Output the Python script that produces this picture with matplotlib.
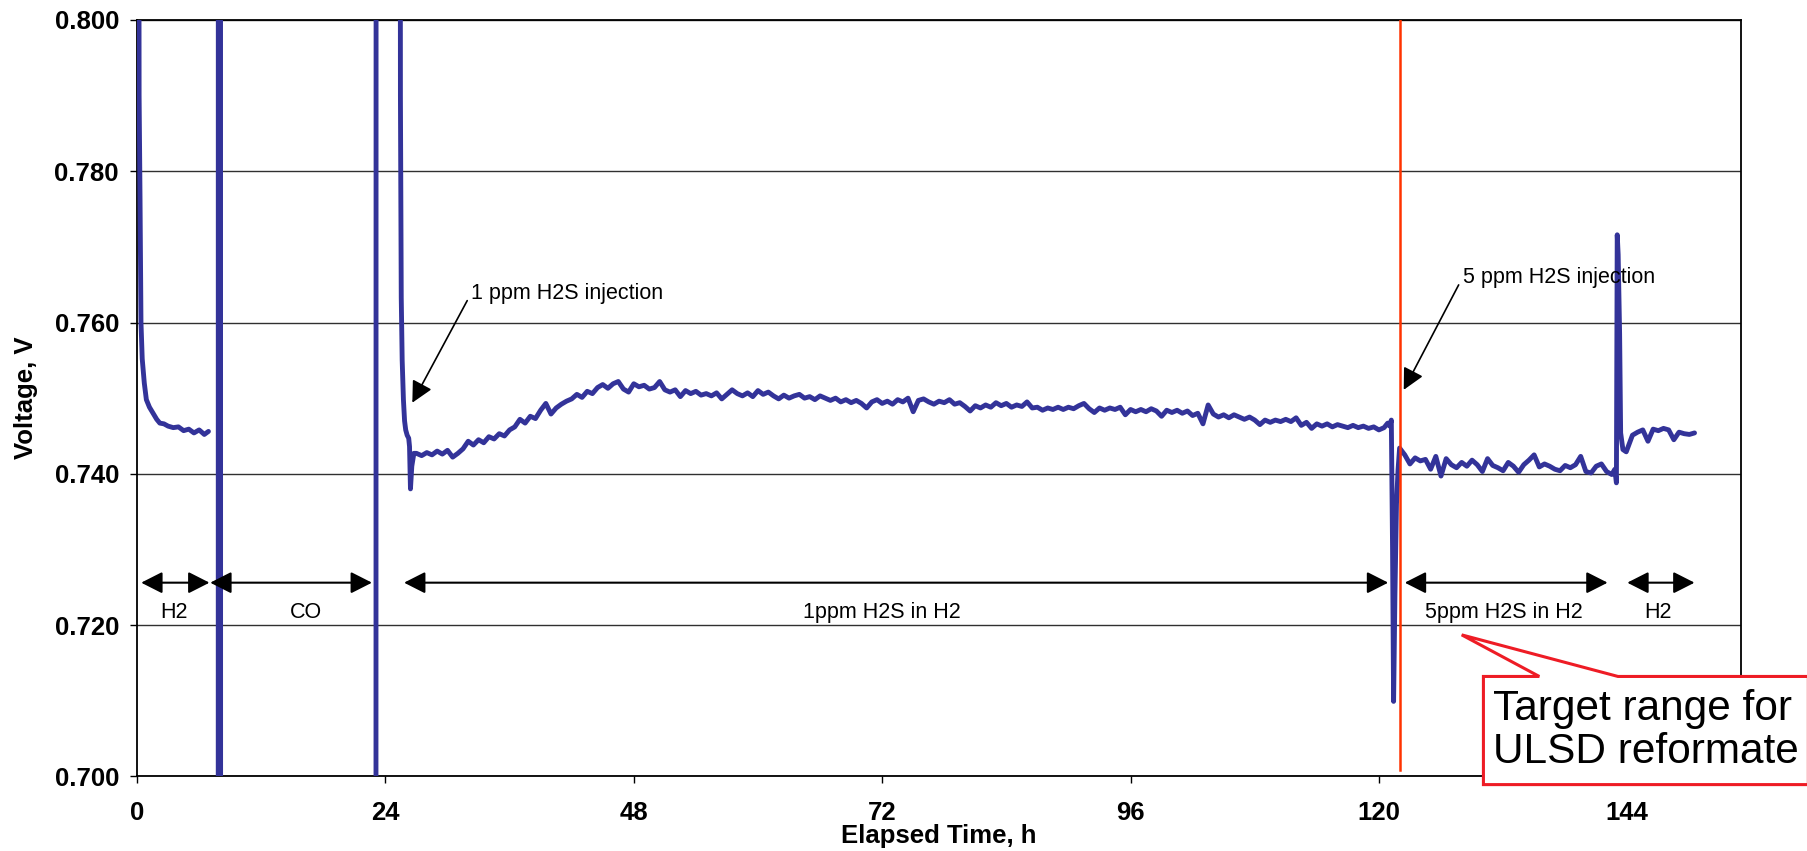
import numpy as np
import matplotlib
matplotlib.use("Agg")
import matplotlib.pyplot as plt
from matplotlib.patches import Polygon
from matplotlib.ticker import FormatStrFormatter

plt.rcParams['font.family'] = ['Liberation Sans', 'DejaVu Sans']

LOG_STEP = 0.5  # h between readings in the long runs

# H2 baseline after start-up
t_h2_start = [0.08, 0.2, 0.29, 0.38, 0.5, 0.7, 0.9, 1.2, 1.55, 1.9, 2.2,
              2.6, 3.0, 3.5, 4.0, 4.5, 5.0, 5.5, 6.0, 6.5, 6.9]
v_h2_start = [0.9500, 0.7900, 0.7762, 0.7600, 0.7552, 0.7520, 0.7498, 0.7488,
              0.7480, 0.7472, 0.7467, 0.7466, 0.7463, 0.7461, 0.7462, 0.7457,
              0.7459, 0.7454, 0.7458, 0.7452, 0.7456]

# CO exposure (cell leaves the window: OCV above, poisoned below), then recovery
t_co = [7.84, 7.86, 8.06, 8.08, 15.0, 23.08, 23.11, 25.38, 25.45, 25.53,
        25.62, 25.74, 25.85, 25.96, 26.1, 26.25, 26.33, 26.42, 26.55, 26.75]
v_co = [0.600, 0.950, 0.950, 0.600, 0.600, 0.600, 0.950, 0.950, 0.7900, 0.7633,
        0.7550, 0.7498, 0.7470, 0.7458, 0.7451, 0.7447, 0.7436, 0.7380, 0.7410, 0.7427]

# 1 ppm H2S in H2, readings from 27.0 h
v_1ppm = [
    0.7427, 0.7424, 0.7428, 0.7425, 0.7430, 0.7426, 0.7431, 0.7422, 0.7427, 0.7433,
    0.7443, 0.7438, 0.7445, 0.7441, 0.7449, 0.7446, 0.7453, 0.7450, 0.7458, 0.7462,
    0.7472, 0.7467, 0.7476, 0.7473, 0.7484, 0.7493, 0.7479, 0.7487, 0.7492, 0.7496,
    0.7499, 0.7505, 0.7501, 0.7509, 0.7506, 0.7514, 0.7518, 0.7513, 0.7519, 0.7522,
    0.7512, 0.7508, 0.7519, 0.7515, 0.7517, 0.7512, 0.7514, 0.7522, 0.7511, 0.7508,
    0.7511, 0.7502, 0.7510, 0.7506, 0.7509, 0.7504, 0.7506, 0.7503, 0.7507, 0.7499,
    0.7505, 0.7511, 0.7506, 0.7503, 0.7507, 0.7502, 0.7510, 0.7505, 0.7508, 0.7503,
    0.7499, 0.7504, 0.7500, 0.7503, 0.7505, 0.7500, 0.7502, 0.7498, 0.7503, 0.7500,
    0.7497, 0.7500, 0.7495, 0.7498, 0.7494, 0.7497, 0.7493, 0.7487, 0.7495, 0.7498,
    0.7493, 0.7496, 0.7492, 0.7498, 0.7495, 0.7500, 0.7482, 0.7497, 0.7499, 0.7495,
    0.7492, 0.7496, 0.7494, 0.7498, 0.7492, 0.7494, 0.7489, 0.7483, 0.7490, 0.7487,
    0.7491, 0.7488, 0.7494, 0.7490, 0.7493, 0.7488, 0.7491, 0.7489, 0.7495, 0.7487,
    0.7488, 0.7484, 0.7487, 0.7485, 0.7488, 0.7485, 0.7488, 0.7486, 0.7490, 0.7493,
    0.7486, 0.7481, 0.7487, 0.7484, 0.7487, 0.7485, 0.7488, 0.7478, 0.7485, 0.7482,
    0.7485, 0.7482, 0.7486, 0.7483, 0.7476, 0.7484, 0.7481, 0.7484, 0.7480, 0.7483,
    0.7477, 0.7480, 0.7466, 0.7491, 0.7479, 0.7475, 0.7478, 0.7474, 0.7478, 0.7475,
    0.7472, 0.7475, 0.7471, 0.7465, 0.7471, 0.7468, 0.7471, 0.7469, 0.7472, 0.7469,
    0.7474, 0.7464, 0.7468, 0.7460, 0.7466, 0.7463, 0.7466, 0.7462, 0.7465, 0.7463,
    0.7461, 0.7464, 0.7461, 0.7463, 0.7460, 0.7462, 0.7458, 0.7461,
]

# switch to 5 ppm
t_switch = [120.85, 121.05, 121.2, 121.32, 121.42, 121.55, 121.7, 121.85, 122.0]
v_switch = [0.7467, 0.7463, 0.7471, 0.7300, 0.7099, 0.7240, 0.7360, 0.7405, 0.7434]

# 5 ppm H2S in H2, readings from 122.5 h
v_5ppm = [
    0.7425, 0.7413, 0.7421, 0.7417, 0.7419, 0.7406, 0.7423, 0.7397, 0.7420, 0.7412,
    0.7408, 0.7415, 0.7410, 0.7418, 0.7412, 0.7403, 0.7420, 0.7411, 0.7408, 0.7404,
    0.7415, 0.7410, 0.7402, 0.7412, 0.7418, 0.7425, 0.7409, 0.7413, 0.7410, 0.7406,
    0.7404, 0.7411, 0.7408, 0.7412, 0.7423, 0.7403, 0.7401, 0.7410, 0.7413, 0.7403,
    0.7399,
]

# back to clean H2
t_return = [142.8, 142.95, 143.03, 143.12, 143.26, 143.36, 143.58, 143.9]
v_return = [0.7406, 0.7388, 0.7716, 0.7690, 0.7586, 0.7454, 0.7432, 0.7429]
v_h2_end = [0.7451, 0.7455, 0.7458, 0.7443, 0.7459, 0.7457, 0.7460, 0.7458,
            0.7445, 0.7455, 0.7453, 0.7452, 0.7454]

t_1ppm = 27.0 + LOG_STEP * np.arange(len(v_1ppm))
t_5ppm = 122.5 + LOG_STEP * np.arange(len(v_5ppm))
t_h2_end = 144.5 + LOG_STEP * np.arange(len(v_h2_end))

# gas phases shown with double arrows
phase_labels = ['H2', 'CO', '1ppm H2S in H2', '5ppm H2S in H2', 'H2']
phase_start = [0.4, 7.07, 25.8, 122.5, 144.0]
phase_end = [7.0, 22.7, 120.9, 142.1, 150.5]
phase_text_x = [3.6, 16.3, 72.0, 132.1, 147.0]

time = np.concatenate([t_h2_start, [np.nan], t_co, t_1ppm, t_switch,
                       t_5ppm, t_return, t_h2_end])
volt = np.concatenate([v_h2_start, [np.nan], v_co, v_1ppm, v_switch,
                       v_5ppm, v_return, v_h2_end])

fig = plt.figure(figsize=(18.08, 8.51), dpi=100)
ax = fig.add_axes([0.0758, 0.0878, 0.8872, 0.8887])

ax.plot(time, volt, color='#333399', lw=3.5,
        solid_joinstyle='round', solid_capstyle='round', zorder=3)

# switch-over marker
ax.axvline(122.05, ymin=0.0086, ymax=1.0, color='#FF3300', lw=1.8, zorder=4)

ax.set_xlim(0, 155)
ax.set_ylim(0.700, 0.800)
ax.set_xticks(np.arange(0, 145, 24))
ax.set_yticks(np.arange(0.700, 0.8001, 0.020))
ax.yaxis.set_major_formatter(FormatStrFormatter('%.3f'))
ax.yaxis.grid(True, color='#303030', lw=1.0)
ax.set_axisbelow(True)
for side in ['left', 'right', 'top', 'bottom']:
    ax.spines[side].set_linewidth(1.3)
ax.tick_params(axis='both', direction='out', length=5, width=1, labelsize=18.5)
ax.tick_params(axis='y', pad=8)
ax.tick_params(axis='x', pad=13)
for lbl in ax.get_xticklabels() + ax.get_yticklabels():
    lbl.set_fontweight('bold')

ax.set_xlabel('Elapsed Time, h', fontsize=18.5, fontweight='bold', va='center')
ax.xaxis.set_label_coords(0.5, -0.079)
ax.set_ylabel('Voltage, V', fontsize=18.5, fontweight='bold', va='center')
ax.yaxis.set_label_coords(-0.069, 0.5)

# phase arrows and names
arrow_y = 0.7256
for lab, x0, x1, xt in zip(phase_labels, phase_start, phase_end, phase_text_x):
    ax.annotate('', xy=(x1, arrow_y), xytext=(x0, arrow_y),
                arrowprops=dict(arrowstyle='<|-|>,head_length=0.65,head_width=0.33',
                                mutation_scale=20, color='black', lw=1.5,
                                shrinkA=0, shrinkB=0))
    ax.text(xt, 0.7216, lab, fontsize=15.5, ha='center', va='center')

# injection call-outs
inj_arrow = dict(arrowstyle='-|>,head_length=0.65,head_width=0.33',
                 mutation_scale=20, color='black', lw=1.2,
                 shrinkA=2, shrinkB=0, relpos=(0, 0.5))
ax.annotate('1 ppm H2S injection', xy=(26.6, 0.7494), xytext=(32.3, 0.7639),
            fontsize=15.5, ha='left', va='center', arrowprops=inj_arrow)
ax.annotate('5 ppm H2S injection', xy=(122.4, 0.7511), xytext=(128.1, 0.7660),
            fontsize=15.5, ha='left', va='center', arrowprops=inj_arrow)

# rectangular callout: box with a pointer notched into its top edge
box_x0, box_x1 = 130.1, 161.5
box_y0, box_y1 = 0.6989, 0.7132
notch_x0, notch_x1 = 135.5, 143.1
tip = (128.0, 0.7187)
callout = Polygon([(box_x0, box_y0), (box_x0, box_y1), (notch_x0, box_y1), tip,
                   (notch_x1, box_y1), (box_x1, box_y1), (box_x1, box_y0)],
                  closed=True, fc='white', ec='#EE1C25', lw=2.2,
                  joinstyle='miter', clip_on=False, zorder=6)
ax.add_patch(callout)
ax.text(145.8, 0.7060, 'Target range for\nULSD reformate', fontsize=30.5,
        ha='center', va='center', multialignment='left', linespacing=1.1,
        clip_on=False, zorder=7)

fig.savefig('out.png', dpi=100)
